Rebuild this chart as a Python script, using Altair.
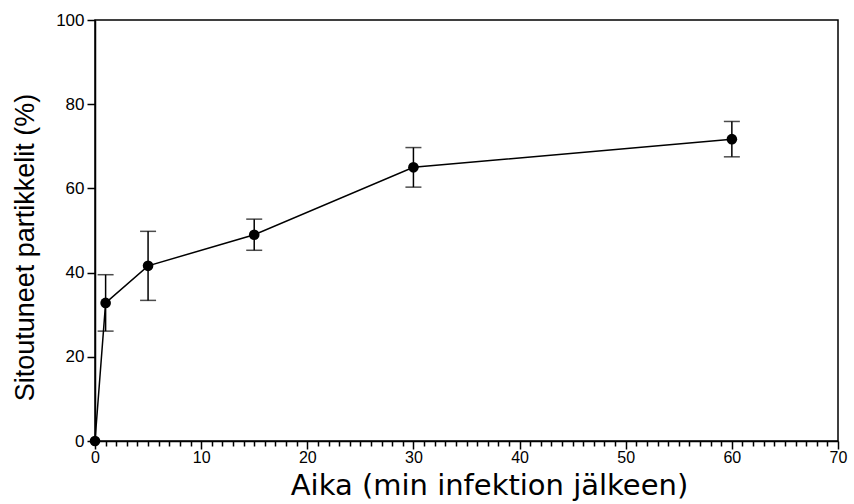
import altair as alt
import pandas as pd

# Data
times = [0, 1, 5, 15, 30, 60]
means = [0.0, 32.8, 41.6, 49.0, 65.0, 71.7]
errors = [0.0, 6.7, 8.2, 3.7, 4.7, 4.2]

x_ticks = list(range(0, 71))
y_ticks = [0, 20, 40, 60, 80, 100]

x_title = "Aika (min infektion jälkeen)"
y_title = "Sitoutuneet partikkelit (%)"

df = pd.DataFrame({"t": times, "m": means, "e": errors})
df["lo"] = df["m"] - df["e"]
df["hi"] = df["m"] + df["e"]

FONT = "Liberation Sans"

x_enc = alt.X(
    "t:Q",
    scale=alt.Scale(domain=[0, 70], nice=False, zero=False),
    axis=alt.Axis(
        values=x_ticks,
        tickCount=200,
        format="d",
        labelExpr="datum.value % 10 === 0 ? datum.label : ''",
        labelOverlap=False,
        labelFlush=False,
        labelFontSize=16,
        tickSize=alt.condition("datum.value % 10 === 0", alt.value(8), alt.value(5)),
        title=x_title,
        titleFont="DejaVu Sans",
        titleFontSize=29,
        titleFontWeight="normal",
        titleColor="black",
        titleX=394,
        titleY=53,
        titleAlign="center",
        titleBaseline="alphabetic",
        labelPadding=0,
    ),
)

y_enc = alt.Y(
    "m:Q",
    scale=alt.Scale(domain=[0, 100], nice=False),
    axis=alt.Axis(
        values=y_ticks,
        tickCount=20,
        format="d",
        tickSize=8,
        labelOverlap=False,
        labelFlush=False,
        title=y_title,
        titleFont=FONT,
        titleFontSize=27,
        titleFontWeight="normal",
        titleColor="black",
        titleX=-62,
        titleY=227,
        titleAngle=270,
        titleAlign="center",
        titleBaseline="alphabetic",
        labelPadding=3,
    ),
)

base = alt.Chart(df)

line = base.mark_line(color="black", strokeWidth=1.5).encode(x=x_enc, y=y_enc)
pts = base.mark_circle(color="black", size=113, opacity=1).encode(x="t:Q", y="m:Q")

err = base.transform_filter("datum.e > 0")
rule = err.mark_rule(color="black", strokeWidth=1.5).encode(x="t:Q", y="lo:Q", y2="hi:Q")
cap_lo = err.mark_tick(color="black", orient="horizontal", size=16, thickness=1.5).encode(x="t:Q", y="lo:Q")
cap_hi = err.mark_tick(color="black", orient="horizontal", size=16, thickness=1.5).encode(x="t:Q", y="hi:Q")

chart = (
    alt.layer(line, rule, cap_lo, cap_hi, pts)
    .properties(
        width=743,
        height=421,
        autosize=alt.AutoSizeParams(type="none"),
        padding={"left": 95, "top": 20, "right": 16, "bottom": 63},
        background="white",
    )
    .configure_view(stroke="black", strokeWidth=1.5)
    .configure_axis(
        grid=False,
        domainColor="black",
        domainWidth=1.5,
        tickColor="black",
        tickWidth=1.5,
        labelFont=FONT,
        labelFontSize=17,
        labelColor="black",
    )
)

chart.save("out.html", embed_options={"renderer": "svg", "actions": False})
